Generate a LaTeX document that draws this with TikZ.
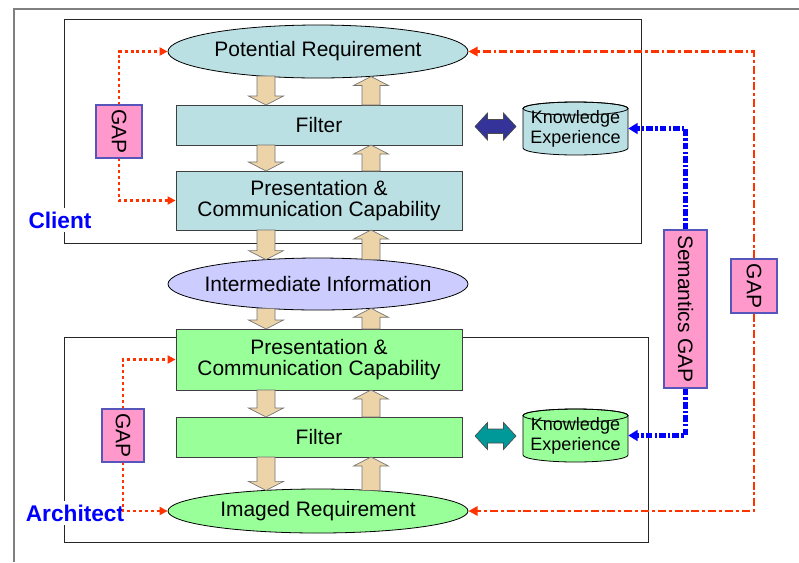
\documentclass[tikz,border=0pt]{standalone}
\usepackage{fontspec}
\setmainfont{Liberation Sans}
\usetikzlibrary{arrows.meta,backgrounds,shapes.geometric}
\definecolor{clientfill}{HTML}{BBE0E3}
\definecolor{archfill}{HTML}{99FF99}
\definecolor{lavfill}{HTML}{CCCCFF}
\definecolor{pinkfill}{HTML}{FF99CC}
\definecolor{pinkedge}{HTML}{5555BB}
\definecolor{tanfill}{HTML}{ECD4A8}
\definecolor{navyarr}{HTML}{333399}
\definecolor{tealarr}{HTML}{009999}
\definecolor{gapred}{HTML}{FF3300}
\definecolor{sembl}{HTML}{0000FF}
\newcommand{\tandown}[3]{\filldraw[tanarr] ({#1-9},#2) -- ({#1+9},#2) -- ({#1+9},{#3-9}) -- ({#1+17.5},{#3-9}) -- (#1,#3) -- ({#1-17.5},{#3-9}) -- ({#1-9},{#3-9}) -- cycle;}
\newcommand{\tanup}[3]{\filldraw[tanarr] ({#1-9},#2) -- ({#1+9},#2) -- ({#1+9},{#3+9}) -- ({#1+17.5},{#3+9}) -- (#1,#3) -- ({#1-17.5},{#3+9}) -- ({#1-9},{#3+9}) -- cycle;}
\newcommand{\dblarr}[4]{\filldraw[fill=#4,draw=black!70,line width=0.5pt] (#1,#3) -- ({#1+12.5},{#3-13.5}) -- ({#1+12.5},{#3-7}) -- ({#2-12.5},{#3-7}) -- ({#2-12.5},{#3-13.5}) -- (#2,#3) -- ({#2-12.5},{#3+13.5}) -- ({#2-12.5},{#3+7}) -- ({#1+12.5},{#3+7}) -- ({#1+12.5},{#3+13.5}) -- cycle;}
\newcommand{\cyl}[3]{\filldraw[fill=#3,draw=black,line width=0.6pt] (523,{#1+6.5}) -- (523,{#2-7}) arc[start angle=180,end angle=360,x radius=39.375pt,y radius=5.25pt] -- (628,{#1+6.5}) arc[start angle=0,end angle=180,x radius=39.375pt,y radius=4.875pt] -- cycle;
\draw[line width=0.6pt] (575.5,{#1+6.5}) ellipse[x radius=39.375pt,y radius=4.875pt];}
\begin{document}
\begin{tikzpicture}[x=0.75pt,y=-0.75pt,
  mainfont/.style={font=\fontsize{15.7pt}{15.75pt}\selectfont},
  boxnode/.style={draw=black!75,line width=0.6pt,minimum width=214.5pt,inner sep=0pt,align=center,mainfont},
  ellnode/.style={ellipse,draw=black,line width=0.6pt,minimum width=225pt,inner sep=0pt,mainfont},
  gapbox/.style={draw=pinkedge,fill=pinkfill,line width=0.8pt,inner sep=0pt,mainfont},
  kenode/.style={minimum width=78.75pt,minimum height=39.75pt,inner sep=0pt,align=center,font=\fontsize{13.5pt}{15pt}\selectfont},
  lab/.style={text=sembl,fill=white,inner sep=3pt,font=\fontsize{17pt}{20pt}\selectfont\bfseries},
  tanarr/.style={fill=tanfill,draw=black!55,line width=0.5pt},
  reddot/.style={draw=gapred,line width=2.2pt,dash pattern=on 2.2pt off 2.2pt,-{Triangle[length=6pt,width=6pt]}},
  reddash/.style={draw=gapred,line width=2.2pt,dash pattern=on 6pt off 2.2pt on 2.2pt off 2.2pt,-{Triangle[length=7pt,width=7pt]}},
  bluedash/.style={draw=sembl,line width=3.2pt,dash pattern=on 5pt off 1.6pt on 1.8pt off 1.6pt,-{Triangle[length=7pt,width=8pt]}}
]
\useasboundingbox (0,0) rectangle (799,562);
% outer partial frame
\draw[gray,line width=1.5pt] (14,562) -- (14,9) -- (799,9);
% group frames
\draw[black!85,line width=0.75pt] (64,19) rectangle (641,243);
\draw[black!85,line width=0.75pt] (64,337) rectangle (648,542);
% labels
\node[lab] (client) at (60,220) {Client};
\node[lab] (architect) at (75,513) {Architect};
% cylinders
\cyl{102}{155}{clientfill}
\cyl{409}{462}{archfill}
\node[kenode] (KEc) at (575.5,128.5) {Knowledge\\Experience};
\node[kenode] (KEa) at (575.5,435.5) {Knowledge\\Experience};
% main nodes
\node[ellnode,fill=clientfill,minimum height=39.75pt] (PR) at (318,51.5) {\makebox[0pt]{Potential Requirement}};
\node[boxnode,fill=clientfill,minimum height=30pt] (FC) at (319,125) {Filter};
\node[boxnode,fill=clientfill,minimum height=44.25pt] (PCc) at (319,200.5) {Presentation \&\\Communication Capability};
\node[ellnode,fill=lavfill,minimum height=39pt] (II) at (318,284) {\makebox[0pt]{Intermediate Information}};
\node[boxnode,fill=archfill,minimum height=45.75pt] (PCa) at (319,359.5) {Presentation \&\\Communication Capability};
\node[boxnode,fill=archfill,minimum height=30pt] (FA) at (319,437) {Filter};
\node[ellnode,fill=archfill,minimum height=33pt] (IR) at (318,511) {\makebox[0pt]{Imaged Requirement}};
% gap boxes
\node[gapbox,minimum width=34.5pt,minimum height=39.75pt] (GAP1) at (119,131.5) {\rotatebox{-90}{GAP}};
\node[gapbox,minimum width=31.5pt,minimum height=39.75pt] (GAP2) at (123,435.5) {\rotatebox{-90}{GAP}};
\node[gapbox,minimum width=32.25pt,minimum height=118.5pt] (SG) at (685.5,309) {\rotatebox{-90}{Semantics GAP}};
\node[gapbox,minimum width=34.5pt,minimum height=40.5pt] (GAP3) at (754,286) {\rotatebox{-90}{GAP}};
% tan block arrows
\tandown{266}{76}{105}
\tanup{371}{105}{76.5}
\tandown{266}{145}{171}
\tanup{371}{171}{145}
\tandown{266}{230}{259.6}
\tanup{371}{259.7}{230}
\tandown{266}{308.4}{329}
\tanup{371}{329}{308.3}
\tandown{266}{390}{417}
\tanup{371}{417}{390}
\tandown{266}{457}{490.4}
\tanup{371}{490.4}{457}
% double arrows
\dblarr{475}{516}{126.5}{navyarr}
\dblarr{475}{516}{436}{tealarr}
% gap connectors
\draw[reddot] (GAP1.north) |- (PR.west);
\draw[reddot] (GAP1.south) |- (PCc.west);
\draw[reddot] (GAP2.north) |- (PCa.west);
\draw[reddot] (GAP2.south) |- (IR.west);
\draw[reddash] (GAP3.north) |- (PR.east);
\draw[reddash] (GAP3.south) |- (IR.east);
\draw[bluedash] (SG.north) |- (KEc.east);
\draw[bluedash] (SG.south) |- (KEa.east);
\end{tikzpicture}
\end{document}
